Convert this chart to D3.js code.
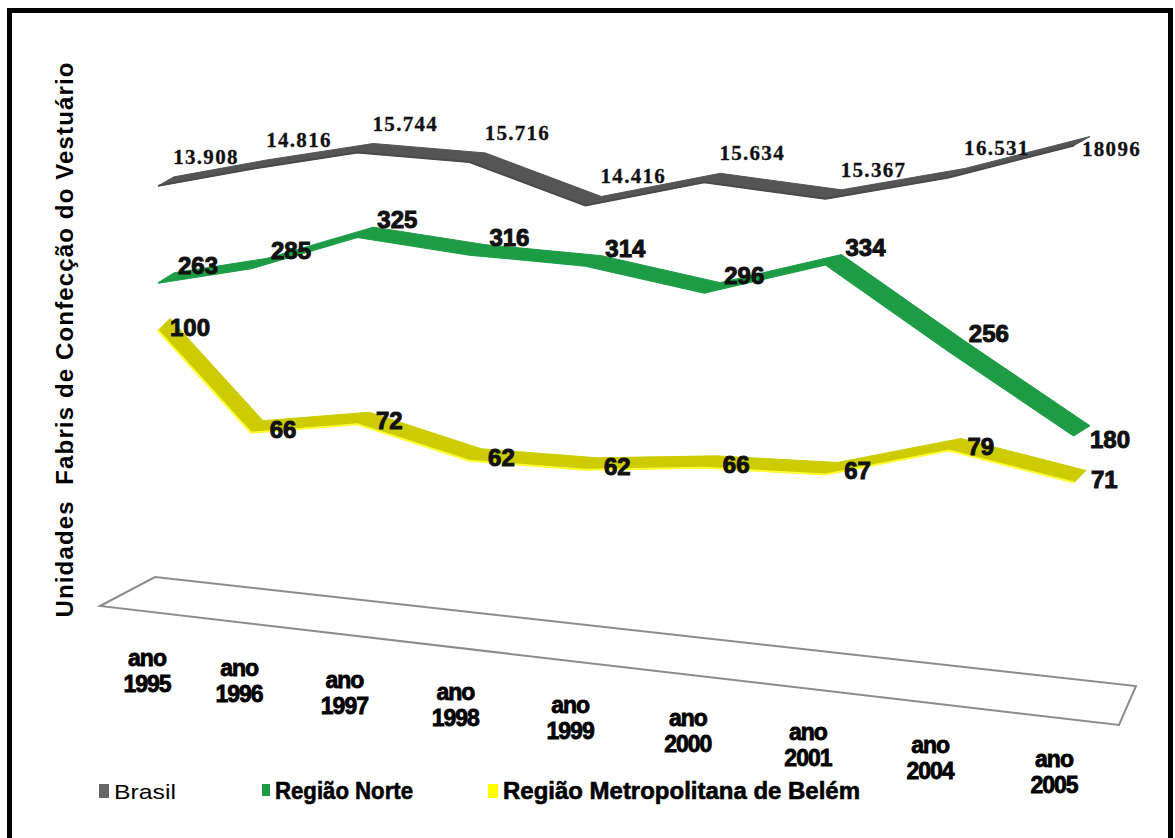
<!DOCTYPE html>
<html>
<head>
<meta charset="utf-8">
<script src="https://cdn.jsdelivr.net/npm/d3@7"></script>
<style>
  body { margin: 0; background: #fff; }
  svg { display: block; }
</style>
</head>
<body>
<svg id="chart" width="1175" height="838"></svg>
<script>
// Unidades fabris de confecção do vestuário, 1995–2005
const years = ["1995", "1996", "1997", "1998", "1999", "2000", "2001", "2004", "2005"];
const brasil = [13908, 14816, 15744, 15716, 14416, 15634, 15367, 16531, 18096];
const norte  = [263, 285, 325, 316, 314, 296, 334, 256, 180];
const belem  = [100, 66, 72, 62, 62, 66, 67, 79, 71];
const brasilText = ["13.908", "14.816", "15.744", "15.716", "14.416", "15.634", "15.367", "16.531", "18096"];
const seriesNames = ["Brasil", "Região Norte", "Região Metropolitana de Belém"];

const svg = d3.select("#chart");

// frame (open at the bottom edge)
svg.append("rect")
  .attr("x", 9.5).attr("y", 10.5)
  .attr("width", 1161).attr("height", 860)
  .attr("fill", "#fff").attr("stroke", "#000").attr("stroke-width", 5);

// category positions along the receding floor
const xPos = d3.scalePow().exponent(1.1).domain([0, years.length - 1]).range([158, 1074]);
const tilt = d3.scaleLinear().domain([158, 1074]).range([0, 71]);

// one value scale per series (each line lives in its own band)
const yBrasil = d3.scaleLinear().domain([13000, 18500]).range([210.0, 63.8]);
const yNorte  = d3.scaleLinear().domain([150, 350]).range([394.4, 197.0]);
const yBelem  = d3.scaleLinear().domain([50, 110]).range([470.2, 302.6]);

// floor plane
const floor = [[100, 606], [155, 577], [1136, 686], [1119, 725]];
svg.append("path")
  .attr("d", d3.line()(floor) + "Z")
  .attr("fill", "#fff").attr("stroke", "#8c8c8c").attr("stroke-width", 2);

const series = [
  { name: seriesNames[2], values: belem, y: yBelem, fill: "#cccc00", edge: "#ffff30",
    depth: [12, -12], text: belem.map(String),
    font: "bold 24px 'Liberation Sans', Arial, sans-serif", lx: 32, ly: 5, endDx: 17, endDy: 5 },
  { name: seriesNames[1], values: norte, y: yNorte, fill: "#1d9b45", edge: "#1f9f48",
    depth: [16, -10], text: norte.map(String),
    font: "bold 24px 'Liberation Sans', Arial, sans-serif", lx: 40, ly: -9, endDx: 16, endDy: 12 },
  { name: seriesNames[0], values: brasil, y: yBrasil, fill: "#555555", edge: "#4a4a4a",
    depth: [16, -9], text: brasilText,
    font: "bold 21px 'Liberation Serif', 'Times New Roman', serif", lx: 48, ly: -22, endDx: 8, endDy: 10,
    spacing: 1.3 }
];

const line = d3.line();

series.forEach(s => {
  const front = s.values.map((v, i) => {
    const x = xPos(i);
    return [x, s.y(v) + tilt(x)];
  });
  const back = front.map(([x, y]) => [x + s.depth[0], y + s.depth[1]]);
  const poly = front.concat(back.slice().reverse());

  svg.append("path")
    .attr("d", line(poly) + "Z")
    .attr("fill", s.fill)
    .attr("stroke", s.fill).attr("stroke-width", 1).attr("stroke-linejoin", "round");

  svg.append("path")
    .attr("d", line(front))
    .attr("fill", "none")
    .attr("stroke", s.edge).attr("stroke-width", 2);

  const g = svg.append("g");
  front.forEach(([x, y], i) => {
    const last = i === front.length - 1;
    const t = g.append("text")
      .attr("x", last ? x + s.endDx : x + s.lx)
      .attr("y", last ? y + s.endDy : y + s.ly)
      .attr("text-anchor", last ? "start" : "middle")
      .style("font", s.font)
      .attr("fill", "#111")
      .text(s.text[i]);
    if (s.spacing) t.style("letter-spacing", s.spacing + "px").attr("stroke", "#111").attr("stroke-width", 0.3);
    else t.attr("stroke", "#111").attr("stroke-width", 1);
  });
});

// category labels, stepping down with the floor
const labelY = d3.scaleLinear().domain([147, 1054]).range([666, 767]);
const catX = d3.scalePow().exponent(1.1).domain([0, years.length - 1]).range([147, 1054]);
const cats = svg.append("g")
  .style("font", "bold 23px 'Liberation Sans', Arial, sans-serif")
  .attr("fill", "#000").attr("stroke", "#000").attr("stroke-width", 0.8)
  .attr("text-anchor", "middle")
  .style("letter-spacing", "-1px");
years.forEach((yr, i) => {
  const x = catX(i), y = labelY(x);
  cats.append("text").attr("x", x).attr("y", y).text("ano");
  cats.append("text").attr("x", x).attr("y", y + 26).text(yr);
});

// vertical axis title
svg.append("text")
  .attr("transform", "translate(73,340) rotate(-90)")
  .attr("text-anchor", "middle")
  .attr("textLength", 555).attr("lengthAdjust", "spacing")
  .style("font", "bold 24px 'Liberation Sans', Arial, sans-serif")
  .style("white-space", "pre")
  .attr("fill", "#000")
  .text("Unidades  Fabris de Confecção do Vestuário");

// legend
const legend = [
  { name: seriesNames[0], color: "#666666", x: 99, w: 10, h: 14, font: "21px 'Liberation Sans Narrow', 'Liberation Sans', Arial, sans-serif", len: 62, sw: 0 },
  { name: seriesNames[1], color: "#1d9b45", x: 262, w: 8, h: 12, font: "bold 24px 'Liberation Sans', Arial, sans-serif", len: 138, sw: 0.6 },
  { name: seriesNames[2], color: "#ffff00", x: 488, w: 10, h: 14, font: "bold 24px 'Liberation Sans', Arial, sans-serif", len: 357, sw: 0.6 }
];
legend.forEach(d => {
  svg.append("rect").attr("x", d.x).attr("y", 784).attr("width", d.w).attr("height", d.h).attr("fill", d.color);
  svg.append("text")
    .attr("x", d.x + d.w + 5).attr("y", 799)
    .attr("textLength", d.len).attr("lengthAdjust", "spacingAndGlyphs")
    .style("font", d.font).attr("fill", "#000")
    .attr("stroke", "#000").attr("stroke-width", d.sw)
    .text(d.name);
});
</script>
</body>
</html>
